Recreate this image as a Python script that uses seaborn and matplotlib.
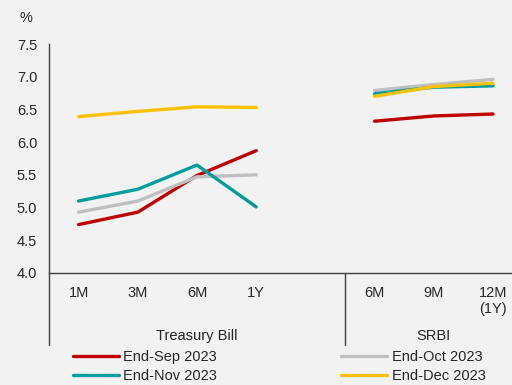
import matplotlib
matplotlib.use("Agg")
import matplotlib.pyplot as plt
from matplotlib.lines import Line2D
import seaborn as sns
import pandas as pd

# ---- data ----
tb_tenors = ["1M", "3M", "6M", "1Y"]
srbi_tenors = ["6M", "9M", "12M\n(1Y)"]
groups = ["Treasury Bill", "SRBI"]
series = ["End-Sep 2023", "End-Oct 2023", "End-Nov 2023", "End-Dec 2023"]

tb_sep = [4.74, 4.93, 5.49, 5.87]
tb_oct = [4.93, 5.10, 5.47, 5.50]
tb_nov = [5.10, 5.28, 5.65, 5.01]
tb_dec = [6.39, 6.47, 6.54, 6.53]

srbi_sep = [6.32, 6.40, 6.43]
srbi_oct = [6.79, 6.88, 6.96]
srbi_nov = [6.74, 6.84, 6.86]
srbi_dec = [6.70, 6.85, 6.90]

colors = ["#c00000", "#bfbfbf", "#009e9e", "#ffc000"]

# ---- build long table ----
tb_vals = [tb_sep, tb_oct, tb_nov, tb_dec]
srbi_vals = [srbi_sep, srbi_oct, srbi_nov, srbi_dec]
tb_pos = list(range(len(tb_tenors)))
srbi_pos = [len(tb_tenors) + 1 + i for i in range(len(srbi_tenors))]

rows = []
for s, tv, sv in zip(series, tb_vals, srbi_vals):
    for p, v in zip(tb_pos, tv):
        rows.append(dict(series=s, grp="TB", pos=p, val=v))
    for p, v in zip(srbi_pos, sv):
        rows.append(dict(series=s, grp="SRBI", pos=p, val=v))
df = pd.DataFrame(rows)

bg = "#f2f2f2"
FS = 10.5
sns.set_style("white")
plt.rcParams["font.family"] = ["Liberation Sans", "DejaVu Sans"]
plt.rcParams["font.size"] = FS

fig = plt.figure(figsize=(5.12, 3.85), dpi=100, facecolor=bg)
W, H = 512, 385
ax_left, ax_right, ax_top, ax_bot = 49, 512, 44, 273
ax = fig.add_axes([ax_left / W, 1 - ax_bot / H, (ax_right - ax_left) / W, (ax_bot - ax_top) / H])
ax.set_facecolor(bg)

sns.lineplot(data=df, x="pos", y="val", hue="series", units="grp", estimator=None,
             palette=dict(zip(series, colors)), hue_order=series, linewidth=2.4,
             legend=False, ax=ax, sort=True)

ax.set_xlim(-0.5, 7.32)
ax.set_ylim(4.0, 7.5)
ax.set_yticks([4.0, 4.5, 5.0, 5.5, 6.0, 6.5, 7.0, 7.5])
ax.set_yticklabels([f"{v:.1f}" for v in ax.get_yticks()])
ax.set_xticks(tb_pos + srbi_pos)
ax.set_xticklabels(tb_tenors + srbi_tenors)
ax.set_xlabel("")
ax.set_ylabel("")
ax.tick_params(axis="both", length=0, labelsize=FS, colors="#262626")
ax.tick_params(axis="y", pad=8.5)
ax.tick_params(axis="x", pad=9.5)
for sp in ["top", "right"]:
    ax.spines[sp].set_visible(False)
for sp in ["left", "bottom"]:
    ax.spines[sp].set_color("#404040")
    ax.spines[sp].set_linewidth(1.0)

# group labels and separators
trans = ax.get_xaxis_transform()
axh = ax_bot - ax_top
sep_y = -(345 - ax_bot) / axh
lab_y = -(336 - ax_bot) / axh
div = len(tb_tenors) + 0.5
for xs in [-0.5, div]:
    ax.add_line(Line2D([xs, xs], [0, sep_y], transform=trans, color="#404040",
                       linewidth=1.0, clip_on=False))
ax.text((-0.5 + div) / 2, lab_y, groups[0], transform=trans, ha="center", va="center",
        fontsize=FS, color="#262626")
ax.text(srbi_pos[1], lab_y, groups[1], transform=trans, ha="center", va="center",
        fontsize=FS, color="#262626")

fig.text(26 / W, 1 - 18 / H, "%", ha="center", va="center", fontsize=FS, color="#262626")

handles = [Line2D([], [], color=c, linewidth=2.4) for c in colors]
order = [0, 2, 1, 3]
leg = fig.legend([handles[i] for i in order], [series[i] for i in order], ncol=2,
                 loc="center left", bbox_to_anchor=(60 / W, 1 - 366.5 / H),
                 frameon=False, handlelength=3.15, handletextpad=0.3,
                 columnspacing=8.5, labelspacing=0.3, fontsize=FS)
for t in leg.get_texts():
    t.set_color("#262626")

fig.savefig("out.png", dpi=100, facecolor=bg)
